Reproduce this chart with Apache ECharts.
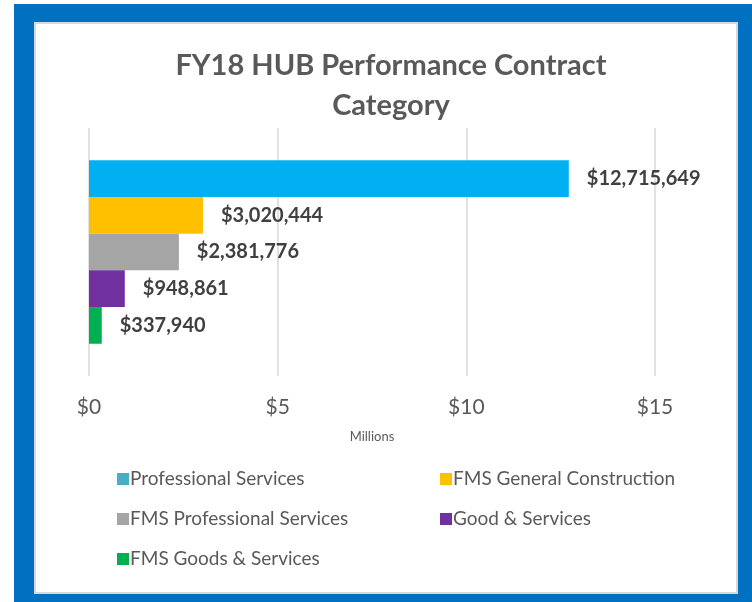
<!DOCTYPE html>
<html>
<head>
<meta charset="utf-8">
<title>FY18 HUB Performance Contract Category</title>
<script src="https://cdn.jsdelivr.net/npm/echarts@6/dist/echarts.min.js"></script>
<style>
  html, body { margin: 0; padding: 0; background: #fff; }
  #chart { width: 752px; height: 602px; }
</style>
</head>
<body>
<div id="chart"></div>
<script>
const categories = ['Professional Services', 'FMS General Construction', 'FMS Professional Services', 'Good & Services', 'FMS Goods & Services'];
const values = [12715649, 3020444, 2381776, 948861, 337940];
const legendColors = ['#4BACC6', '#FFC000', '#A5A5A5', '#7030A0', '#00B050'];
const barColors = ['#00B0F0', '#FFC000', '#A5A5A5', '#7030A0', '#00B050'];
const tickValues = [0, 5000000, 10000000, 15000000];

const money = (v) => '$' + v.toLocaleString('en-US');

const chart = echarts.init(document.getElementById('chart'));

const series = categories.map((name, i) => ({
  name: name,
  type: 'bar',
  barGap: '0%',
  barCategoryGap: '26%',
  itemStyle: { color: legendColors[i] },
  data: [{ value: values[i], itemStyle: { color: barColors[i] } }],
  label: {
    show: true,
    position: 'right',
    distance: 18,
    formatter: (p) => money(p.value),
    fontFamily: 'Lato',
    fontWeight: 'bold',
    fontSize: 20,
    color: '#404040'
  }
}));

const legendBase = {
  orient: 'vertical',
  top: 464,
  itemWidth: 12,
  itemHeight: 12,
  itemGap: 20,
  icon: 'rect',
  textStyle: { fontFamily: 'Lato', fontSize: 19, color: '#595959', lineHeight: 20, padding: [0, 0, 0, -4] }
};

chart.setOption({
  animation: false,
  textStyle: { fontFamily: 'Lato' },
  graphic: [
    { type: 'rect', z: -10, shape: { x: 14, y: 4, width: 738, height: 598 }, style: { fill: '#0070C0' } },
    { type: 'rect', z: -9, shape: { x: 35, y: 23, width: 702, height: 570 }, style: { fill: '#fff', stroke: '#D9D9D9', lineWidth: 2 } }
  ],
  title: {
    text: 'FY18 HUB Performance Contract\nCategory',
    left: 386,
    textAlign: 'center',
    top: 41,
    textStyle: { fontFamily: 'Lato', fontWeight: 'bold', fontSize: 29, lineHeight: 40, color: '#595959' }
  },
  legend: [
    Object.assign({}, legendBase, { data: [categories[0], categories[2], categories[4]], left: 112 }),
    Object.assign({}, legendBase, { data: [categories[1], categories[3]], left: 435 })
  ],
  grid: { left: 89, right: 97, top: 128, bottom: 226, containLabel: false },
  xAxis: {
    type: 'value',
    min: tickValues[0],
    max: tickValues[tickValues.length - 1],
    interval: 5000000,
    name: 'Millions',
    nameLocation: 'middle',
    nameGap: 54,
    nameTextStyle: { fontFamily: 'Lato', fontSize: 13, color: '#595959' },
    axisLine: { show: false },
    axisTick: { show: false },
    axisLabel: {
      margin: 21,
      fontFamily: 'Lato',
      fontSize: 21,
      color: '#595959',
      formatter: (v) => '$' + (v / 1000000)
    },
    splitLine: { lineStyle: { color: '#D9D9D9', width: 1.5 } }
  },
  yAxis: {
    type: 'category',
    inverse: true,
    data: ['FY18'],
    axisLine: { show: false },
    axisTick: { show: false },
    axisLabel: { show: false }
  },
  series: series
});
</script>
</body>
</html>
